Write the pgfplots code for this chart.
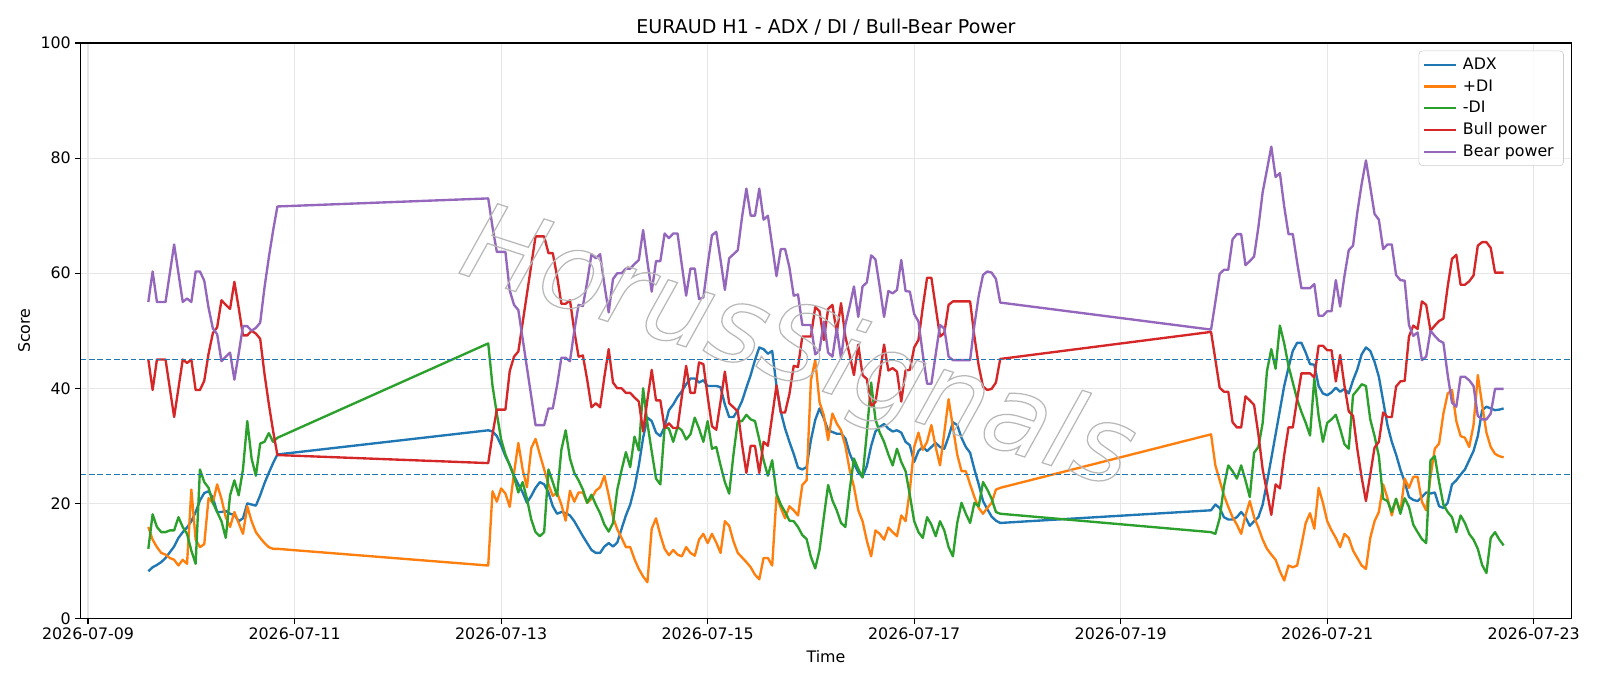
\documentclass[border=0pt]{standalone}
\usepackage{fontspec}
\setmainfont{DejaVu Sans}
\usepackage{pgfplots}
\pgfplotsset{compat=1.18}
\usepackage{pgfplotstable}
\definecolor{tabblue}{HTML}{1F77B4}
\definecolor{taborange}{HTML}{FF7F0E}
\definecolor{tabgreen}{HTML}{2CA02C}
\definecolor{tabred}{HTML}{D62728}
\definecolor{tabpurple}{HTML}{9467BD}
\definecolor{gridgray}{HTML}{E6E6E6}
\pgfplotstableread{
h adx pdi mdi bull bear
14 8.2 15.9 12.1 45.0 55.0
15 8.9 13.7 18.1 39.7 60.3
16 9.3 12.4 15.9 45.0 55.0
17 9.8 11.4 15.0 45.0 55.0
18 10.5 11.1 15.0 45.0 55.0
19 11.5 10.5 15.3 40.0 60.0
20 12.5 10.2 15.3 35.0 65.0
21 14.0 9.2 17.6 40.0 60.0
22 15.0 10.2 15.9 45.0 55.0
23 15.8 9.5 14.7 44.4 55.6
24 16.9 22.4 11.8 45.0 55.0
25 18.5 13.7 9.5 39.7 60.3
26 20.5 12.4 25.9 39.7 60.3
27 21.8 12.9 23.7 41.3 58.7
28 22.1 20.9 22.7 46.0 54.0
29 21.0 20.1 20.1 49.6 50.4
30 18.5 23.3 18.5 50.6 49.4
31 18.5 20.8 16.9 55.3 44.7
32 18.7 17.6 14.0 54.5 45.5
33 18.2 15.9 21.4 53.8 46.2
34 18.0 18.5 24.0 58.5 41.5
35 16.9 16.6 21.4 54.0 46.0
36 17.4 14.7 25.9 49.2 50.8
37 20.0 19.5 34.3 49.2 50.8
38 19.8 16.9 27.8 50.0 50.0
39 19.6 15.0 24.8 49.5 50.5
40 21.4 14.0 30.4 48.6 51.4
41 23.5 13.1 30.7 42.5 57.5
42 25.3 12.4 32.2 37.3 62.7
43 27.0 12.1 30.7 32.6 67.4
44 28.5 12.1 31.4 28.4 71.6
93 32.7 9.2 47.8 27.0 73.0
94 32.5 22.1 40.4 32.0 68.0
95 31.7 20.3 35.6 36.3 63.7
96 30.1 22.6 31.1 36.3 63.7
97 28.2 21.7 28.5 36.3 63.7
98 26.7 19.4 26.6 43.0 57.0
99 24.8 25.3 24.6 45.5 54.5
100 23.3 30.5 21.9 46.4 53.6
101 21.9 25.9 23.7 51.4 48.6
102 20.1 22.8 20.8 56.4 43.6
103 21.3 29.6 17.2 61.4 38.6
104 22.7 31.2 15.0 66.4 33.6
105 23.7 28.5 14.3 66.4 33.6
106 23.3 25.9 15.0 66.4 33.6
107 21.9 23.3 25.9 63.5 36.5
108 19.5 21.3 23.7 63.5 36.5
109 18.2 21.9 21.3 59.5 40.5
110 18.5 19.8 29.3 54.7 45.3
111 18.3 17.0 32.7 54.7 45.3
112 17.9 22.2 27.8 55.3 44.7
113 16.9 20.3 25.3 50.0 50.0
114 15.6 21.9 24.0 45.5 54.5
115 14.3 21.9 22.4 45.7 54.3
116 13.1 20.1 20.1 41.5 58.5
117 11.9 20.8 21.5 36.7 63.3
118 11.4 22.2 19.8 37.4 62.6
119 11.4 22.8 18.3 36.7 63.3
120 12.5 24.8 16.3 42.0 58.0
121 13.1 21.4 15.1 46.8 53.2
122 12.5 17.6 16.6 41.0 59.0
123 13.2 15.5 22.4 40.0 60.0
124 15.6 14.0 25.8 40.0 60.0
125 17.9 12.4 28.9 39.2 60.8
126 19.8 12.4 26.3 39.2 60.8
127 22.7 10.3 31.6 38.4 61.6
128 26.6 8.6 29.2 37.7 62.3
129 31.4 7.3 40.0 32.5 67.5
130 34.9 6.3 33.9 38.0 62.0
131 34.3 15.6 29.0 43.2 56.8
132 32.3 17.4 24.3 37.9 62.1
133 31.7 14.5 23.3 37.9 62.1
134 33.3 12.1 33.3 33.1 66.9
135 36.2 11.0 33.0 33.9 66.1
136 37.2 11.9 30.7 33.1 66.9
137 38.5 11.1 33.3 33.1 66.9
138 39.5 10.8 32.7 38.6 61.4
139 40.7 12.4 31.1 43.9 56.1
140 41.7 11.4 32.0 39.2 60.8
141 41.7 10.9 34.9 39.2 60.8
142 41.0 13.7 33.0 44.5 55.5
143 41.4 14.7 30.7 44.2 55.8
144 40.4 13.1 34.3 38.6 61.4
145 40.4 14.7 29.5 33.4 66.6
146 40.4 13.2 29.8 32.8 67.2
147 40.2 11.4 26.6 37.7 62.3
148 37.2 16.9 23.7 42.9 57.1
149 35.0 16.1 21.7 37.4 62.6
150 35.0 13.4 28.5 36.7 63.3
151 36.2 11.4 34.3 36.0 64.0
152 37.8 10.6 34.3 30.2 69.8
153 40.1 9.8 35.4 25.3 74.7
154 42.3 8.9 34.6 30.0 70.0
155 44.9 7.6 34.3 30.0 70.0
156 47.1 6.8 31.1 25.3 74.7
157 46.8 10.5 27.5 30.7 69.3
158 46.0 10.5 24.8 30.0 70.0
159 46.5 9.2 27.5 35.2 64.8
160 40.4 21.3 21.7 40.5 59.5
161 35.9 19.2 19.8 35.8 64.2
162 33.0 17.4 18.5 35.8 64.2
163 30.7 19.5 17.0 39.0 61.0
164 28.6 18.8 16.9 43.9 56.1
165 26.2 17.9 15.9 43.7 56.3
166 25.9 23.2 14.5 49.0 51.0
167 26.3 24.0 13.8 49.0 51.0
168 31.0 41.4 10.7 49.0 51.0
169 34.5 44.9 8.7 54.1 45.9
170 36.5 37.6 11.9 53.4 46.6
171 34.8 35.3 17.6 48.4 51.6
172 32.7 31.0 23.2 53.8 46.2
173 32.4 35.6 20.5 54.5 45.5
174 32.1 33.9 18.8 49.6 50.4
175 32.1 32.7 16.6 54.8 45.2
176 31.3 30.0 15.9 49.0 51.0
177 28.7 25.8 22.3 45.8 54.2
178 26.9 22.9 27.8 42.3 57.7
179 25.4 18.8 26.0 47.6 52.4
180 24.6 16.9 24.5 42.3 57.7
181 26.5 13.5 32.3 41.6 58.4
182 30.0 10.8 41.0 36.9 63.1
183 32.5 15.3 34.6 37.6 62.4
184 33.3 14.7 32.3 42.4 57.6
185 33.8 13.7 30.7 47.6 52.4
186 33.0 15.8 28.5 43.1 56.9
187 32.5 15.0 26.6 43.5 56.5
188 32.7 14.3 29.5 42.9 57.1
189 32.3 17.9 27.2 37.7 62.3
190 30.7 16.9 25.6 43.1 56.9
191 30.1 22.4 21.4 43.2 56.8
192 27.2 29.8 16.9 47.1 52.9
193 29.1 32.3 15.0 48.4 51.6
194 29.8 29.3 14.0 54.1 45.9
195 29.1 30.7 17.6 59.2 40.8
196 29.8 33.6 16.3 59.2 40.8
197 30.5 29.8 14.3 54.1 45.9
198 29.8 26.6 16.9 49.0 51.0
199 29.5 32.3 15.3 49.6 50.4
200 31.6 38.1 12.4 54.5 45.5
201 34.1 33.3 10.8 55.1 44.9
202 33.6 28.5 16.6 55.1 44.9
203 31.4 25.6 20.1 55.1 44.9
204 29.8 25.6 18.2 55.1 44.9
205 28.8 23.3 16.6 55.1 44.9
206 25.9 21.1 20.1 49.0 51.0
207 23.3 19.2 19.5 43.9 56.1
208 20.4 18.2 23.7 40.3 59.7
209 19.0 19.2 22.4 39.7 60.3
210 17.7 20.1 20.8 39.9 60.1
211 17.0 22.4 18.5 41.0 59.0
212 16.6 22.7 18.2 45.1 54.9
261 18.8 32.0 15.0 49.8 50.2
262 19.8 26.6 14.7 45.0 55.0
263 19.2 24.0 17.4 40.1 59.9
264 17.6 21.4 23.0 39.4 60.6
265 17.2 19.4 26.6 39.4 60.6
266 17.2 17.6 25.6 34.1 65.9
267 17.6 16.3 24.3 33.2 66.8
268 18.5 14.7 26.6 33.2 66.8
269 17.6 17.9 24.0 38.6 61.4
270 16.1 20.4 21.1 37.9 62.1
271 16.9 17.6 28.8 37.1 62.9
272 17.6 15.8 29.8 32.0 68.0
273 19.8 13.7 34.0 25.9 74.1
274 23.7 12.1 43.0 22.0 78.0
275 27.8 11.1 46.8 18.0 82.0
276 32.0 10.2 43.4 23.3 76.7
277 36.2 8.2 50.9 22.6 77.4
278 40.4 6.6 47.8 28.4 71.6
279 43.6 9.2 43.9 33.2 66.8
280 46.5 8.9 41.0 33.2 66.8
281 47.9 9.2 38.1 38.1 61.9
282 47.9 12.7 35.9 42.6 57.4
283 46.2 16.6 34.0 42.6 57.4
284 44.2 18.3 31.8 42.6 57.4
285 44.1 15.6 41.7 41.9 58.1
286 40.4 22.7 35.2 47.4 52.6
287 39.1 20.1 30.7 47.4 52.6
288 38.8 16.9 34.0 46.6 53.4
289 39.3 15.3 34.6 46.6 53.4
290 40.1 14.0 35.4 41.2 58.8
291 39.4 12.4 33.0 45.8 54.2
292 39.9 14.7 30.3 40.5 59.5
293 39.1 14.0 29.5 36.0 64.0
294 41.4 11.8 38.8 35.2 64.8
295 43.3 10.5 39.7 29.4 70.6
296 45.9 9.2 40.7 24.5 75.5
297 47.1 8.6 40.4 20.4 79.6
298 46.5 14.0 34.6 25.0 75.0
299 44.6 16.9 31.7 29.7 70.3
300 42.0 18.5 28.2 30.7 69.3
301 37.8 23.3 20.8 35.8 64.2
302 33.6 20.9 20.4 35.0 65.0
303 30.7 17.9 18.5 35.0 65.0
304 28.5 20.8 20.8 40.3 59.7
305 25.9 18.5 18.2 41.2 58.8
306 23.7 24.3 20.9 41.3 58.7
307 21.1 22.7 19.4 49.0 51.0
308 20.6 24.6 16.3 50.9 49.1
309 20.4 24.6 15.0 50.3 49.7
310 21.1 20.3 13.8 55.1 44.9
311 21.9 18.8 13.1 54.5 45.5
312 21.7 24.6 27.5 50.0 50.0
313 21.9 29.5 28.2 50.9 49.1
314 19.5 30.4 23.7 51.7 48.3
315 19.2 35.6 19.8 52.1 47.9
316 20.1 39.1 18.5 57.7 42.3
317 23.3 39.7 17.6 62.5 37.5
318 24.0 34.3 15.0 63.2 36.8
319 25.0 31.7 17.9 58.0 42.0
320 25.9 31.4 16.6 58.0 42.0
321 27.5 29.8 14.7 58.6 41.4
322 29.1 33.6 13.7 59.6 40.4
323 31.7 42.3 12.1 64.8 35.2
324 36.2 37.2 9.3 65.4 34.6
325 36.8 32.3 7.9 65.4 34.6
326 36.5 29.8 14.0 64.4 35.6
327 36.2 28.6 15.0 60.1 39.9
328 36.3 28.2 13.7 60.1 39.9
329 36.5 28.0 12.7 60.1 39.9
}\datatable

\begin{document}
\begin{tikzpicture}
\begin{axis}[
  scale only axis, width=1073.4pt, height=414.3pt,
  xmin=-1.75, xmax=344.75, ymin=0, ymax=100,
  xtick={0,48,96,144,192,240,288,336},
  xticklabels={2026-07-09,2026-07-11,2026-07-13,2026-07-15,2026-07-17,2026-07-19,2026-07-21,2026-07-23},
  ytick={0,20,40,60,80,100},
  tick align=outside, tick pos=left, major tick length=4pt,
  every tick/.style={black, line width=0.9pt},
  axis line style={line width=0.9pt},
  grid=major, grid style={color=gridgray, line width=0.9pt},
  tick label style={font=\fontsize{11.4}{13.7}\selectfont},
  xticklabel style={yshift=1pt},
  yticklabel style={xshift=0.5pt},
  /pgf/number format/assume math mode=true,
  xlabel={Time}, ylabel={Score},
  label style={font=\fontsize{11.4}{13.7}\selectfont},
  xlabel style={yshift=-0.8pt},
  ylabel style={yshift=0.6pt},
  title={EURAUD H1 - ADX / DI / Bull-Bear Power},
  title style={font=\fontsize{13.7}{16}\selectfont, yshift=-4pt},
  legend style={at={(1,1)}, anchor=north east, xshift=-5.5pt, yshift=-5.5pt,
    draw=black!20, rounded corners=2.5pt, fill=white, fill opacity=0.8, text opacity=1,
    font=\fontsize{11.4}{13.7}\selectfont, inner sep=3pt, row sep=1.8pt,
    nodes={inner xsep=4pt}},
  legend cell align=left,
  legend image code/.code={\draw[#1] (0pt,0pt) -- (23pt,0pt);},
  every axis plot/.append style={line width=1.7pt, line join=round},
]
\addplot[tabblue, no markers] table[x=h, y=adx] {\datatable};
\addlegendentry{ADX}
\addplot[taborange, no markers] table[x=h, y=pdi] {\datatable};
\addlegendentry{+DI}
\addplot[tabgreen, no markers] table[x=h, y=mdi] {\datatable};
\addlegendentry{-DI}
\addplot[tabred, no markers] table[x=h, y=bull] {\datatable};
\addlegendentry{Bull power}
\addplot[tabpurple, no markers] table[x=h, y=bear] {\datatable};
\addlegendentry{Bear power}
\addplot[tabblue, line width=1.15pt, dash pattern=on 4.2pt off 1.8pt, forget plot] coordinates {(-1.75,25) (344.75,25)};
\addplot[tabblue, line width=1.15pt, dash pattern=on 4.2pt off 1.8pt, forget plot] coordinates {(-1.75,45) (344.75,45)};
\node[rotate=-18, text=black!28] at (axis cs:164.8,46.3) {\special{pdf:literal 1 Tr 0.9 w}\fontsize{77}{77}\selectfont\itshape HorusSignals\special{pdf:literal 0 Tr}};
\end{axis}
\path ([shift={(-58pt,-48.7pt)}]current axis.south west) rectangle ([shift={(20.6pt,31pt)}]current axis.north east);
\end{tikzpicture}
\end{document}
